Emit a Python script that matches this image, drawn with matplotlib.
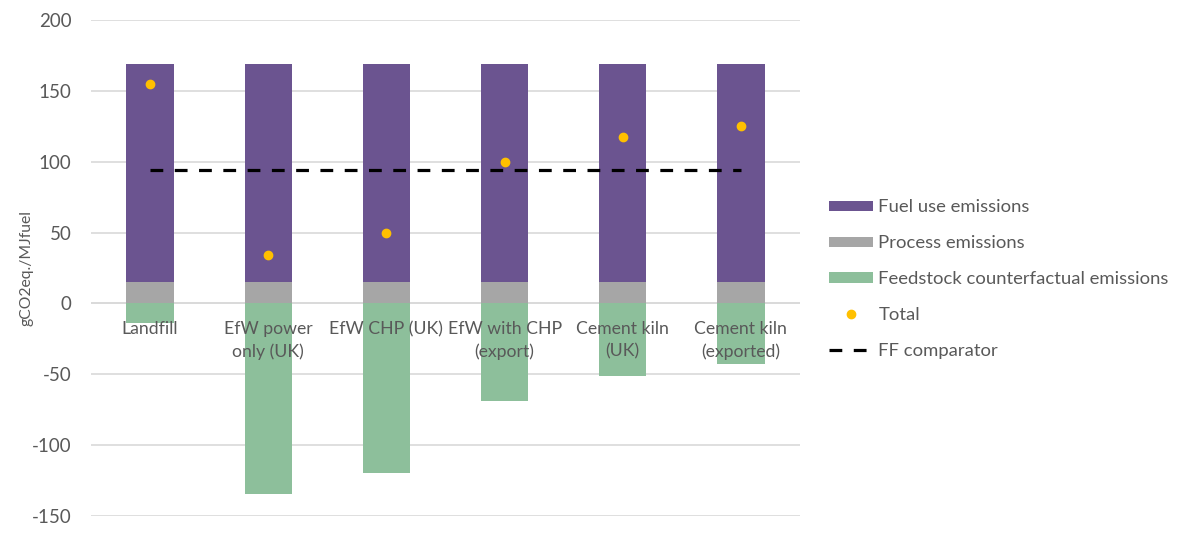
import matplotlib
matplotlib.use("Agg")
import matplotlib.pyplot as plt
from matplotlib.patches import Patch
from matplotlib.lines import Line2D
import numpy as np

categories = ["Landfill", "EfW power\nonly (UK)", "EfW CHP (UK)", "EfW with CHP\n(export)",
              "Cement kiln\n(UK)", "Cement kiln\n(exported)"]
fuel_use = [154, 154, 154, 154, 154, 154]
process = [15, 15, 15, 15, 15, 15]
feedstock = [-13.6, -134.5, -119.5, -69, -51, -43]
total = [155, 34, 49.5, 99.5, 117.5, 125.5]
ff_comparator = [94, 94, 94, 94, 94, 94]

C_FUEL = "#6B5490"
C_PROC = "#A6A6A6"
C_FEED = "#8DBF9B"
C_TOTAL = "#FFC000"
TXT = "#595959"

plt.rcParams["font.family"] = ["Lato", "DejaVu Sans"]
plt.rcParams["axes.unicode_minus"] = False

fig = plt.figure(figsize=(11.78, 5.4), dpi=100)
ax = fig.add_axes([91 / 1178, 1 - 516 / 540, 709 / 1178, 496 / 540])

x = np.arange(len(categories))
w = 0.4
ax.bar(x, process, w, color=C_PROC, zorder=2)
ax.bar(x, fuel_use, w, bottom=process, color=C_FUEL, zorder=2)
ax.bar(x, feedstock, w, color=C_FEED, zorder=2)
ax.plot(x, ff_comparator, color="black", lw=2.3, dashes=(4, 3.6), zorder=3)
ax.plot(x, total, "o", color=C_TOTAL, ms=6, zorder=4)

ax.set_xlim(-0.5, len(categories) - 0.5)
ax.set_ylim(-150, 200)
ax.set_yticks(np.arange(-150, 201, 50))
ax.yaxis.grid(True, color="#D9D9D9", lw=1.2, zorder=0)
ax.set_axisbelow(True)
for s in ax.spines.values():
    s.set_visible(False)
ax.tick_params(axis="y", length=0, labelsize=13.5, labelcolor=TXT, pad=14)
ax.set_xticks([])
ax.axhline(0, color="#D9D9D9", lw=1.2, zorder=1)

for xi, lab in zip(x, categories):
    ax.text(xi, -12.5, lab, ha="center", va="top", fontsize=12.7, color=TXT,
            linespacing=1.45, zorder=5)

fig.text(27 / 1178, 1 - 268 / 540, "gCO2eq./MJfuel", rotation=90, ha="center",
         va="center", fontsize=11.3, color=TXT)

handles = [
    Patch(facecolor=C_FUEL, label="Fuel use emissions"),
    Patch(facecolor=C_PROC, label="Process emissions"),
    Patch(facecolor=C_FEED, label="Feedstock counterfactual emissions"),
    Line2D([], [], ls="none", marker="o", color=C_TOTAL, ms=6, label="Total"),
    Line2D([], [], color="black", lw=2.3, dashes=(4, 3.6), label="FF comparator"),
]
leg = fig.legend(handles=handles, loc="upper left", bbox_to_anchor=(822 / 1178, 1 - 192 / 540),
                 frameon=False, fontsize=13.3, handlelength=2.35, handleheight=0.5,
                 handletextpad=0.3, labelspacing=1.08, borderaxespad=0)
for t in leg.get_texts():
    t.set_color(TXT)

fig.savefig("out.png", dpi=100)
